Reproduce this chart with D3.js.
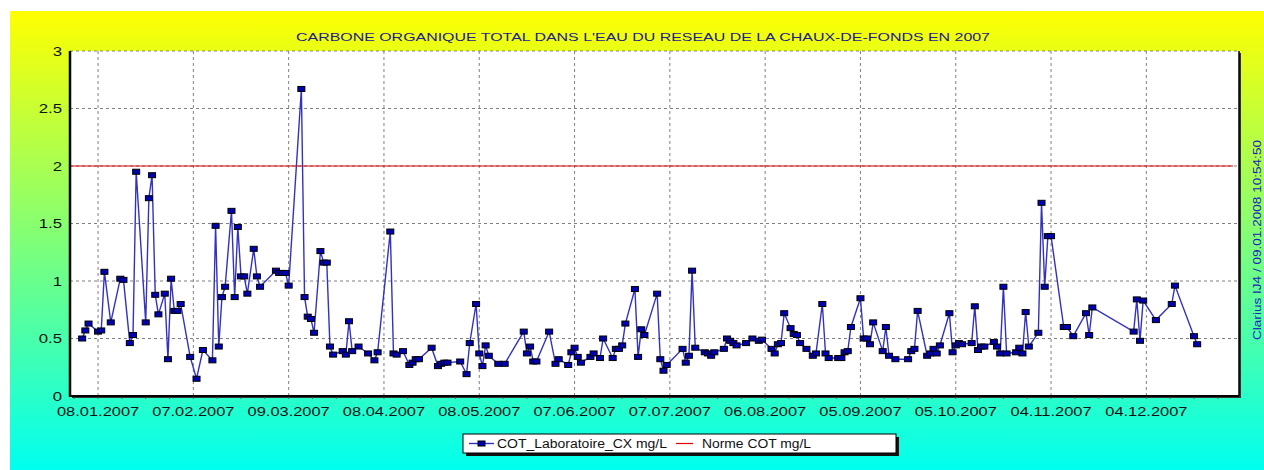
<!DOCTYPE html>
<html>
<head>
<meta charset="utf-8">
<script src="https://cdnjs.cloudflare.com/ajax/libs/d3/7.8.5/d3.min.js"></script>
<style>
  body { margin: 0; background: #fff; }
  svg { display: block; font-family: "Liberation Sans", Arial, sans-serif; }
</style>
</head>
<body>
<script>
// day of year 2007 for each measurement
var jours = [3,4,5,8,9,10,12,15,16,18,
    19,20,23,24,25,26,27,29,30,31,
    32,33,34,37,39,41,44,45,46,47,
    48,50,51,52,53,54,55,57,58,59,
    64,65,66,67,68,72,73,74,75,76,
    78,79,80,81,82,85,86,87,88,90,
    93,95,96,100,101,102,104,106,107,108,
    109,113,115,116,117,118,122,124,125,127,
    128,129,130,131,134,136,142,143,144,145,
    146,150,152,153,156,157,158,159,160,163,
    164,166,167,170,171,172,173,174,177,178,
    179,180,184,185,186,187,192,193,194,195,
    196,199,200,201,202,205,206,207,208,209,
    212,214,216,217,220,221,222,223,224,226,
    227,228,229,231,233,234,236,237,238,241,
    242,243,244,245,248,249,250,251,252,255,
    256,257,259,263,264,265,266,269,270,271,
    272,273,276,277,278,279,280,283,284,285,
    286,287,290,291,292,293,294,297,298,299,
    300,301,304,305,306,307,308,312,313,315,
    319,320,321,334,335,336,337,341,346,347,
    353,354];

// COT_Laboratoire_CX mg/L
var cot = [0.50,0.57,0.63,0.56,0.57,1.08,0.64,1.02,1.01,0.46,
    0.53,1.95,0.64,1.72,1.92,0.88,0.71,0.89,0.32,1.02,
    0.74,0.74,0.80,0.34,0.15,0.40,0.31,1.48,0.43,0.86,
    0.95,1.61,0.86,1.47,1.04,1.04,0.89,1.28,1.04,0.95,
    1.09,1.07,1.07,1.07,0.96,2.67,0.86,0.69,0.67,0.55,
    1.26,1.16,1.16,0.43,0.36,0.39,0.36,0.65,0.39,0.43,
    0.37,0.31,0.38,1.43,0.37,0.36,0.39,0.27,0.29,0.32,
    0.32,0.42,0.26,0.28,0.29,0.29,0.30,0.19,0.46,0.80,
    0.37,0.26,0.44,0.35,0.28,0.28,0.56,0.37,0.43,0.30,
    0.30,0.56,0.28,0.32,0.27,0.38,0.42,0.34,0.29,0.34,
    0.37,0.33,0.50,0.33,0.41,0.41,0.44,0.63,0.93,0.34,
    0.58,0.53,0.89,0.32,0.22,0.27,0.41,0.29,0.35,1.09,
    0.42,0.38,0.37,0.35,0.38,0.41,0.50,0.48,0.46,0.44,
    0.46,0.50,0.48,0.49,0.41,0.37,0.45,0.46,0.72,0.59,
    0.54,0.53,0.46,0.41,0.35,0.37,0.80,0.37,0.33,0.33,
    0.33,0.38,0.39,0.60,0.85,0.50,0.50,0.45,0.64,0.39,
    0.60,0.35,0.32,0.32,0.39,0.41,0.74,0.35,0.37,0.41,
    0.37,0.44,0.72,0.38,0.44,0.46,0.45,0.46,0.78,0.40,
    0.43,0.43,0.47,0.43,0.37,0.95,0.37,0.38,0.42,0.37,
    0.73,0.43,0.55,1.68,0.95,1.39,1.39,0.60,0.60,0.52,
    0.72,0.53,0.77,0.56,0.84,0.48,0.83,0.66,0.80,0.96,
    0.52,0.45];

var norme = 2; // Norme COT mg/L

var xTickLabels = ["08.01.2007","07.02.2007","09.03.2007","08.04.2007","08.05.2007","07.06.2007",
    "07.07.2007","06.08.2007","05.09.2007","05.10.2007","04.11.2007","04.12.2007"];
var yTicks = [0, 0.5, 1, 1.5, 2, 2.5, 3];

var titre = "CARBONE ORGANIQUE TOTAL DANS L'EAU DU RESEAU DE LA CHAUX-DE-FONDS EN 2007";
var serieNames = ["COT_Laboratoire_CX mg/L", "Norme COT mg/L"];
var signature = "Clarius IJ4 / 09.01.2008 10:54:50";

var W = 1264, H = 470;
var margin = { top: 51, left: 70, right: 25, bottom: 74 };
var width = W - margin.left - margin.right;   // 1169
var height = H - margin.top - margin.bottom;  // 345

var parseDate = d3.timeParse("%d.%m.%Y");
var start2007 = new Date(2007, 0, 1);
var data = jours.map(function (j, i) {
    return { date: d3.timeDay.offset(start2007, j - 1), value: cot[i] };
});

var svg = d3.select("body").append("svg")
    .attr("width", W)
    .attr("height", H);

// background gradient
var grad = svg.append("defs").append("linearGradient")
    .attr("id", "bg").attr("x1", 0).attr("y1", 0).attr("x2", 0).attr("y2", 1);
grad.append("stop").attr("offset", "0%").attr("stop-color", "#ffff00");
grad.append("stop").attr("offset", "100%").attr("stop-color", "#00fff0");
svg.append("rect")
    .attr("x", 10).attr("y", 11)
    .attr("width", W - 10).attr("height", H - 11)
    .attr("fill", "url(#bg)");

// scales
var x = d3.scaleTime()
    .domain([new Date(2006, 11, 30, 4), new Date(2008, 0, 2, 4)])
    .range([0, width]);
var y = d3.scaleLinear()
    .domain([0, 3])
    .range([height, 0]);

var g = svg.append("g")
    .attr("transform", "translate(" + margin.left + "," + margin.top + ")");

// plot area
g.append("rect")
    .attr("x", 2).attr("y", 2)
    .attr("width", width).attr("height", height)
    .attr("fill", "#333");
g.append("rect")
    .attr("width", width).attr("height", height)
    .attr("fill", "#fff");

var tickDates = xTickLabels.map(parseDate);

// grid
g.append("g").attr("class", "grid y")
    .selectAll("line").data(yTicks).enter().append("line")
    .attr("x1", 0).attr("x2", width)
    .attr("y1", function (d) { return y(d); })
    .attr("y2", function (d) { return y(d); })
    .attr("stroke", "#808080")
    .attr("stroke-dasharray", "3,3");
g.append("g").attr("class", "grid x")
    .selectAll("line").data(tickDates).enter().append("line")
    .attr("x1", function (d) { return x(d); })
    .attr("x2", function (d) { return x(d); })
    .attr("y1", 0).attr("y2", height)
    .attr("stroke", "#808080")
    .attr("stroke-dasharray", "3,3");

// norme line
g.append("line")
    .attr("x1", 0).attr("x2", width - 6)
    .attr("y1", y(norme)).attr("y2", y(norme))
    .attr("stroke", "#e00000")
    .attr("stroke-width", 1.2);

// series line
var line = d3.line()
    .x(function (d) { return x(d.date); })
    .y(function (d) { return y(d.value); });
g.append("path")
    .datum(data)
    .attr("d", line)
    .attr("fill", "none")
    .attr("stroke", "#3232c0")
    .attr("stroke-width", 1.4);

// markers
g.selectAll("rect.pt").data(data).enter().append("rect")
    .attr("class", "pt")
    .attr("x", function (d) { return x(d.date) - 3.5; })
    .attr("y", function (d) { return y(d.value) - 2.5; })
    .attr("width", 7).attr("height", 5)
    .attr("fill", "#0000b4")
    .attr("stroke", "#000")
    .attr("stroke-width", 1);

// axes frame
g.append("line").attr("x1", 0).attr("x2", 0).attr("y1", 0).attr("y2", height + 1)
    .attr("stroke", "#000").attr("stroke-width", 2.5);
g.append("line").attr("x1", 0).attr("x2", width).attr("y1", height).attr("y2", height)
    .attr("stroke", "#000").attr("stroke-width", 2);
g.append("line").attr("x1", width).attr("x2", width).attr("y1", 0).attr("y2", height)
    .attr("stroke", "#000").attr("stroke-width", 1.5);

// minor ticks on x axis (every quarter of a label interval)
var minor = d3.range(-1, 48).map(function (k) {
    return new Date(tickDates[0].getTime() + k * 7.5 * 86400000);
}).filter(function (d) { return x(d) > 0 && x(d) < width; });
g.selectAll("line.minor").data(minor).enter().append("line")
    .attr("class", "minor")
    .attr("x1", function (d) { return x(d); })
    .attr("x2", function (d) { return x(d); })
    .attr("y1", height + 1).attr("y2", height + 3)
    .attr("stroke", "#555");

// y labels
g.selectAll("text.ylab").data(yTicks).enter().append("text")
    .attr("class", "ylab")
    .attr("text-anchor", "end")
    .attr("font-size", "12px")
    .attr("fill", "#111")
    .attr("transform", function (d) { return "translate(-8," + (y(d) + 4.5) + ") scale(1.4,1)"; })
    .text(function (d) { return d; });

// x labels
g.selectAll("text.xlab").data(tickDates).enter().append("text")
    .attr("class", "xlab")
    .attr("text-anchor", "middle")
    .attr("font-size", "12px")
    .attr("fill", "#111")
    .attr("transform", function (d) { return "translate(" + x(d) + "," + (height + 20) + ") scale(1.37,1)"; })
    .text(function (d, i) { return xTickLabels[i]; });

// title
svg.append("text")
    .attr("x", 296).attr("y", 41)
    .attr("font-size", "11.5px")
    .attr("fill", "#1c1c8c")
    .attr("textLength", 694)
    .attr("lengthAdjust", "spacingAndGlyphs")
    .text(titre);

// signature on the right
svg.append("text")
    .attr("transform", "translate(1261,240) rotate(-90)")
    .attr("text-anchor", "middle")
    .attr("font-size", "10px")
    .attr("fill", "#2020c0")
    .attr("textLength", 200)
    .attr("lengthAdjust", "spacingAndGlyphs")
    .text(signature);

// legend
var lg = svg.append("g").attr("transform", "translate(463,434)");
lg.append("rect").attr("x", 3).attr("y", 3).attr("width", 433).attr("height", 19).attr("fill", "#111");
lg.append("rect").attr("width", 433).attr("height", 19).attr("fill", "#fff").attr("stroke", "#000");
lg.append("line").attr("x1", 6).attr("x2", 31).attr("y1", 9.5).attr("y2", 9.5)
    .attr("stroke", "#3232c0").attr("stroke-width", 1.4);
lg.append("rect").attr("x", 15).attr("y", 7).attr("width", 7).attr("height", 5)
    .attr("fill", "#0000b4").attr("stroke", "#000");
lg.append("text").attr("x", 34).attr("y", 14).attr("font-size", "12px").attr("fill", "#111")
    .attr("textLength", 170).attr("lengthAdjust", "spacingAndGlyphs")
    .text(serieNames[0]);
lg.append("line").attr("x1", 213).attr("x2", 230).attr("y1", 9.5).attr("y2", 9.5)
    .attr("stroke", "#e00000").attr("stroke-width", 1.2);
lg.append("text").attr("x", 239).attr("y", 14).attr("font-size", "12px").attr("fill", "#111")
    .attr("textLength", 109).attr("lengthAdjust", "spacingAndGlyphs")
    .text(serieNames[1]);
</script>
</body>
</html>
